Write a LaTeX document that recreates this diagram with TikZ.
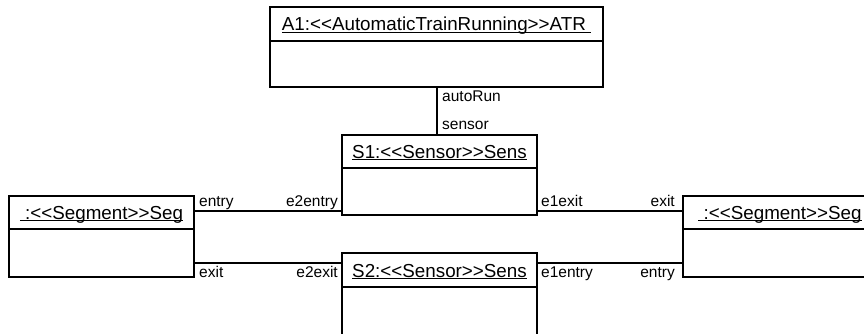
\documentclass[tikz,border=0pt]{standalone}
\usepackage{fontspec}
\setmainfont{Liberation Sans}
\usetikzlibrary{calc}
\newcommand\dlt{<\kern0pt<}
\newcommand\dgt{>\kern0pt>}
\newsavebox\ulbox
\newcommand\ulin[1]{\sbox\ulbox{#1}\rlap{\rule[-2.2pt]{\wd\ulbox}{1pt}}\usebox\ulbox}
\begin{document}
\begin{tikzpicture}[x=1pt,y=-1pt,
  box/.style={draw, line width=1.2pt, rectangle, inner sep=0pt, fill=white},
  ttl/.style={anchor=base, inner sep=0pt, font=\fontsize{18.8}{22}\selectfont},
  lbl/.style={inner sep=0pt, font=\fontsize{15.5}{18}\selectfont},
  conn/.style={line width=1.2pt}]
\clip (0,0) rectangle (864,334);
\fill[white] (0,0) rectangle (864,334);
% boxes
\node[box, minimum width=333pt, minimum height=80pt] (A1) at (436.5,47) {};
\node[box, minimum width=195pt, minimum height=80pt] (S1) at (439.5,175) {};
\node[box, minimum width=195pt, minimum height=90pt] (S2) at (439.5,298) {};
\node[box, minimum width=185pt, minimum height=81pt] (L) at (101.5,236.5) {};
\node[box, minimum width=194pt, minimum height=81pt] (R) at (780,236.5) {};
% dividers
\draw[conn] (A1.west |- 0,41) -- (A1.east |- 0,41);
\draw[conn] (S1.west |- 0,168) -- (S1.east |- 0,168);
\draw[conn] (S2.west |- 0,287) -- (S2.east |- 0,287);
\draw[conn] (L.west |- 0,229) -- (L.east |- 0,229);
\draw[conn] (R.west |- 0,229) -- (R.east |- 0,229);
% titles
\node[ttl] (A1t) at (436.5,31) {\ulin{A1:\dlt AutomaticTrainRunning\dgt ATR\ }};
\node[ttl] (S1t) at (439.5,158) {\ulin{S1:\dlt Sensor\dgt Sens}};
\node[ttl] (S2t) at (439.5,277) {\ulin{S2:\dlt Sensor\dgt Sens}};
\node[ttl] (Lt) at (101.5,219) {\ulin{\ :\dlt Segment\dgt Seg}};
\node[ttl] (Rt) at (780,219) {\ulin{\ :\dlt Segment\dgt Seg}};
% connectors
\draw[conn] ([xshift=0.5pt]A1.south) -- ([xshift=0.5pt]A1.south |- S1.north);
\draw[conn] (L.east |- 0,211) -- (S1.west |- 0,211);
\draw[conn] (L.east |- 0,263) -- (S2.west |- 0,263);
\draw[conn] (S1.east |- 0,211) -- (R.west |- 0,211);
\draw[conn] (S2.east |- 0,263) -- (R.west |- 0,263);
% labels
\node[lbl, anchor=base west] (l1) at (442,102) {autoRun};
\node[lbl, anchor=base west] (l2) at (442,130) {sensor};
\node[lbl, anchor=base west] (l3) at (199,206.5) {entry};
\node[lbl, anchor=base east] (l4) at (338,206.5) {e2entry};
\node[lbl, anchor=base west] (l5) at (199,277) {exit};
\node[lbl, anchor=base east] (l6) at (338,277) {e2exit};
\node[lbl, anchor=base west] (l7) at (541,206.5) {e1exit};
\node[lbl, anchor=base east] (l8) at (675,206.5) {exit};
\node[lbl, anchor=base west] (l9) at (541,277) {e1entry};
\node[lbl, anchor=base east] (l10) at (675,277) {entry};
\end{tikzpicture}
\end{document}
